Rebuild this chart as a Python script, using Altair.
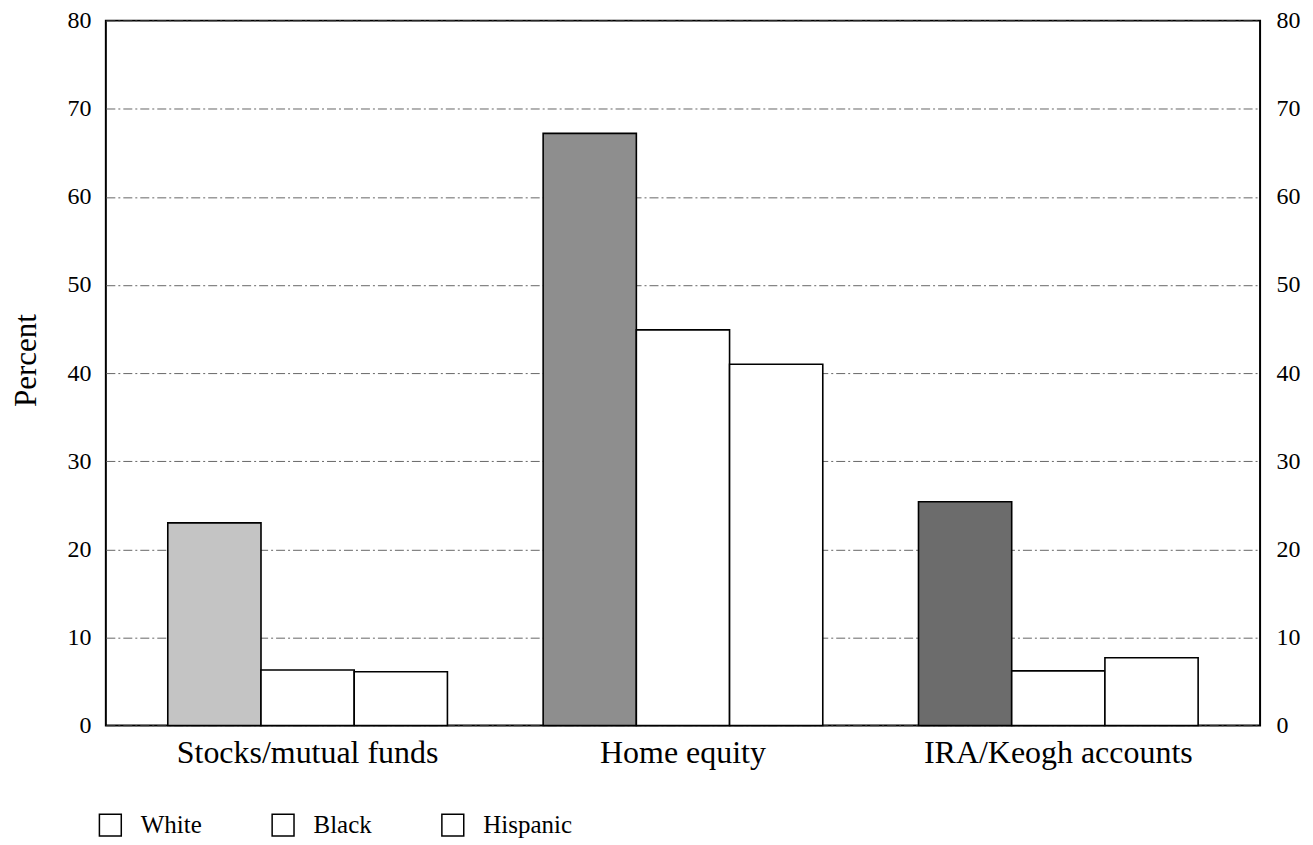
import altair as alt
import pandas as pd

categories = ["Stocks/mutual funds", "Home equity", "IRA/Keogh accounts"]
races = ["White", "Black", "Hispanic"]
white = [23.0, 67.2, 25.4]
black = [6.3, 44.9, 6.2]
hispanic = [6.1, 41.0, 7.7]
white_shades = ["#c4c4c4", "#8e8e8e", "#6c6c6c"]
y_ticks = [0, 10, 20, 30, 40, 50, 60, 70, 80]

rows = []
for i, c in enumerate(categories):
    for r, vals in zip(races, [white, black, hispanic]):
        rows.append(dict(category=c, race=r, value=vals[i],
                         shade=white_shades[i] if r == "White" else "#ffffff"))
df = pd.DataFrame(rows)

FONT = "Liberation Serif"

x = alt.X("category:N", sort=categories,
          scale=alt.Scale(paddingInner=0.255, paddingOuter=0.165),
          axis=alt.Axis(title=None, labelAngle=0, labelFontSize=32, labelPadding=12,
                        labelLimit=0, ticks=False, domain=False, labelColor="black",
                        labelFont=FONT))
xo = alt.XOffset("race:N", sort=races, scale=alt.Scale(paddingInner=0, paddingOuter=0))

bars = alt.Chart(df).mark_bar(strokeWidth=1.6).encode(
    x=x, xOffset=xo,
    y=alt.Y("value:Q", scale=alt.Scale(domain=[0, 80], nice=False),
            axis=alt.Axis(title="Percent", values=y_ticks, orient="left", grid=True,
                          gridDash=[9, 3, 2, 3], gridColor="#666", gridWidth=1,
                          ticks=False, domain=False, labelFontSize=24, labelPadding=15,
                          labelFont=FONT, titleFont=FONT,
                          titleFontSize=31, titleFontWeight="normal", titlePadding=24,
                          titleY=340, labelColor="black", titleColor="black")),
    fill=alt.Fill("shade:N", scale=None),
    stroke=alt.Stroke("race:N", sort=races,
                      scale=alt.Scale(domain=races, range=["black", "black", "black"]),
                      legend=alt.Legend(title=None, orient="none", direction="horizontal",
                                        legendX=-8, legendY=793, symbolType="square",
                                        symbolSize=480, symbolFillColor="white",
                                        symbolStrokeColor="black", symbolStrokeWidth=1.5,
                                        labelFontSize=25, labelFont=FONT, labelColor="black",
                                        labelOffset=18, columnPadding=66)),
)

right = alt.Chart(df).mark_bar(opacity=0).encode(
    x=x, xOffset=xo,
    y=alt.Y("value:Q", scale=alt.Scale(domain=[0, 80], nice=False),
            axis=alt.Axis(title=None, values=y_ticks, orient="right", grid=False,
                          ticks=False, domain=False, labelFontSize=24, labelPadding=16,
                          labelFont=FONT, labelColor="black")),
)

chart = alt.layer(bars, right).resolve_scale(y="independent").properties(
    width=1156, height=706,
    background="white",
    autosize=alt.AutoSizeParams(type="none"),
    padding={"left": 98, "top": 12, "right": 45, "bottom": 118},
).configure(font=FONT).configure_view(stroke="black", strokeWidth=2)

chart.save("out.html", embed_options={"renderer": "svg", "actions": False})
